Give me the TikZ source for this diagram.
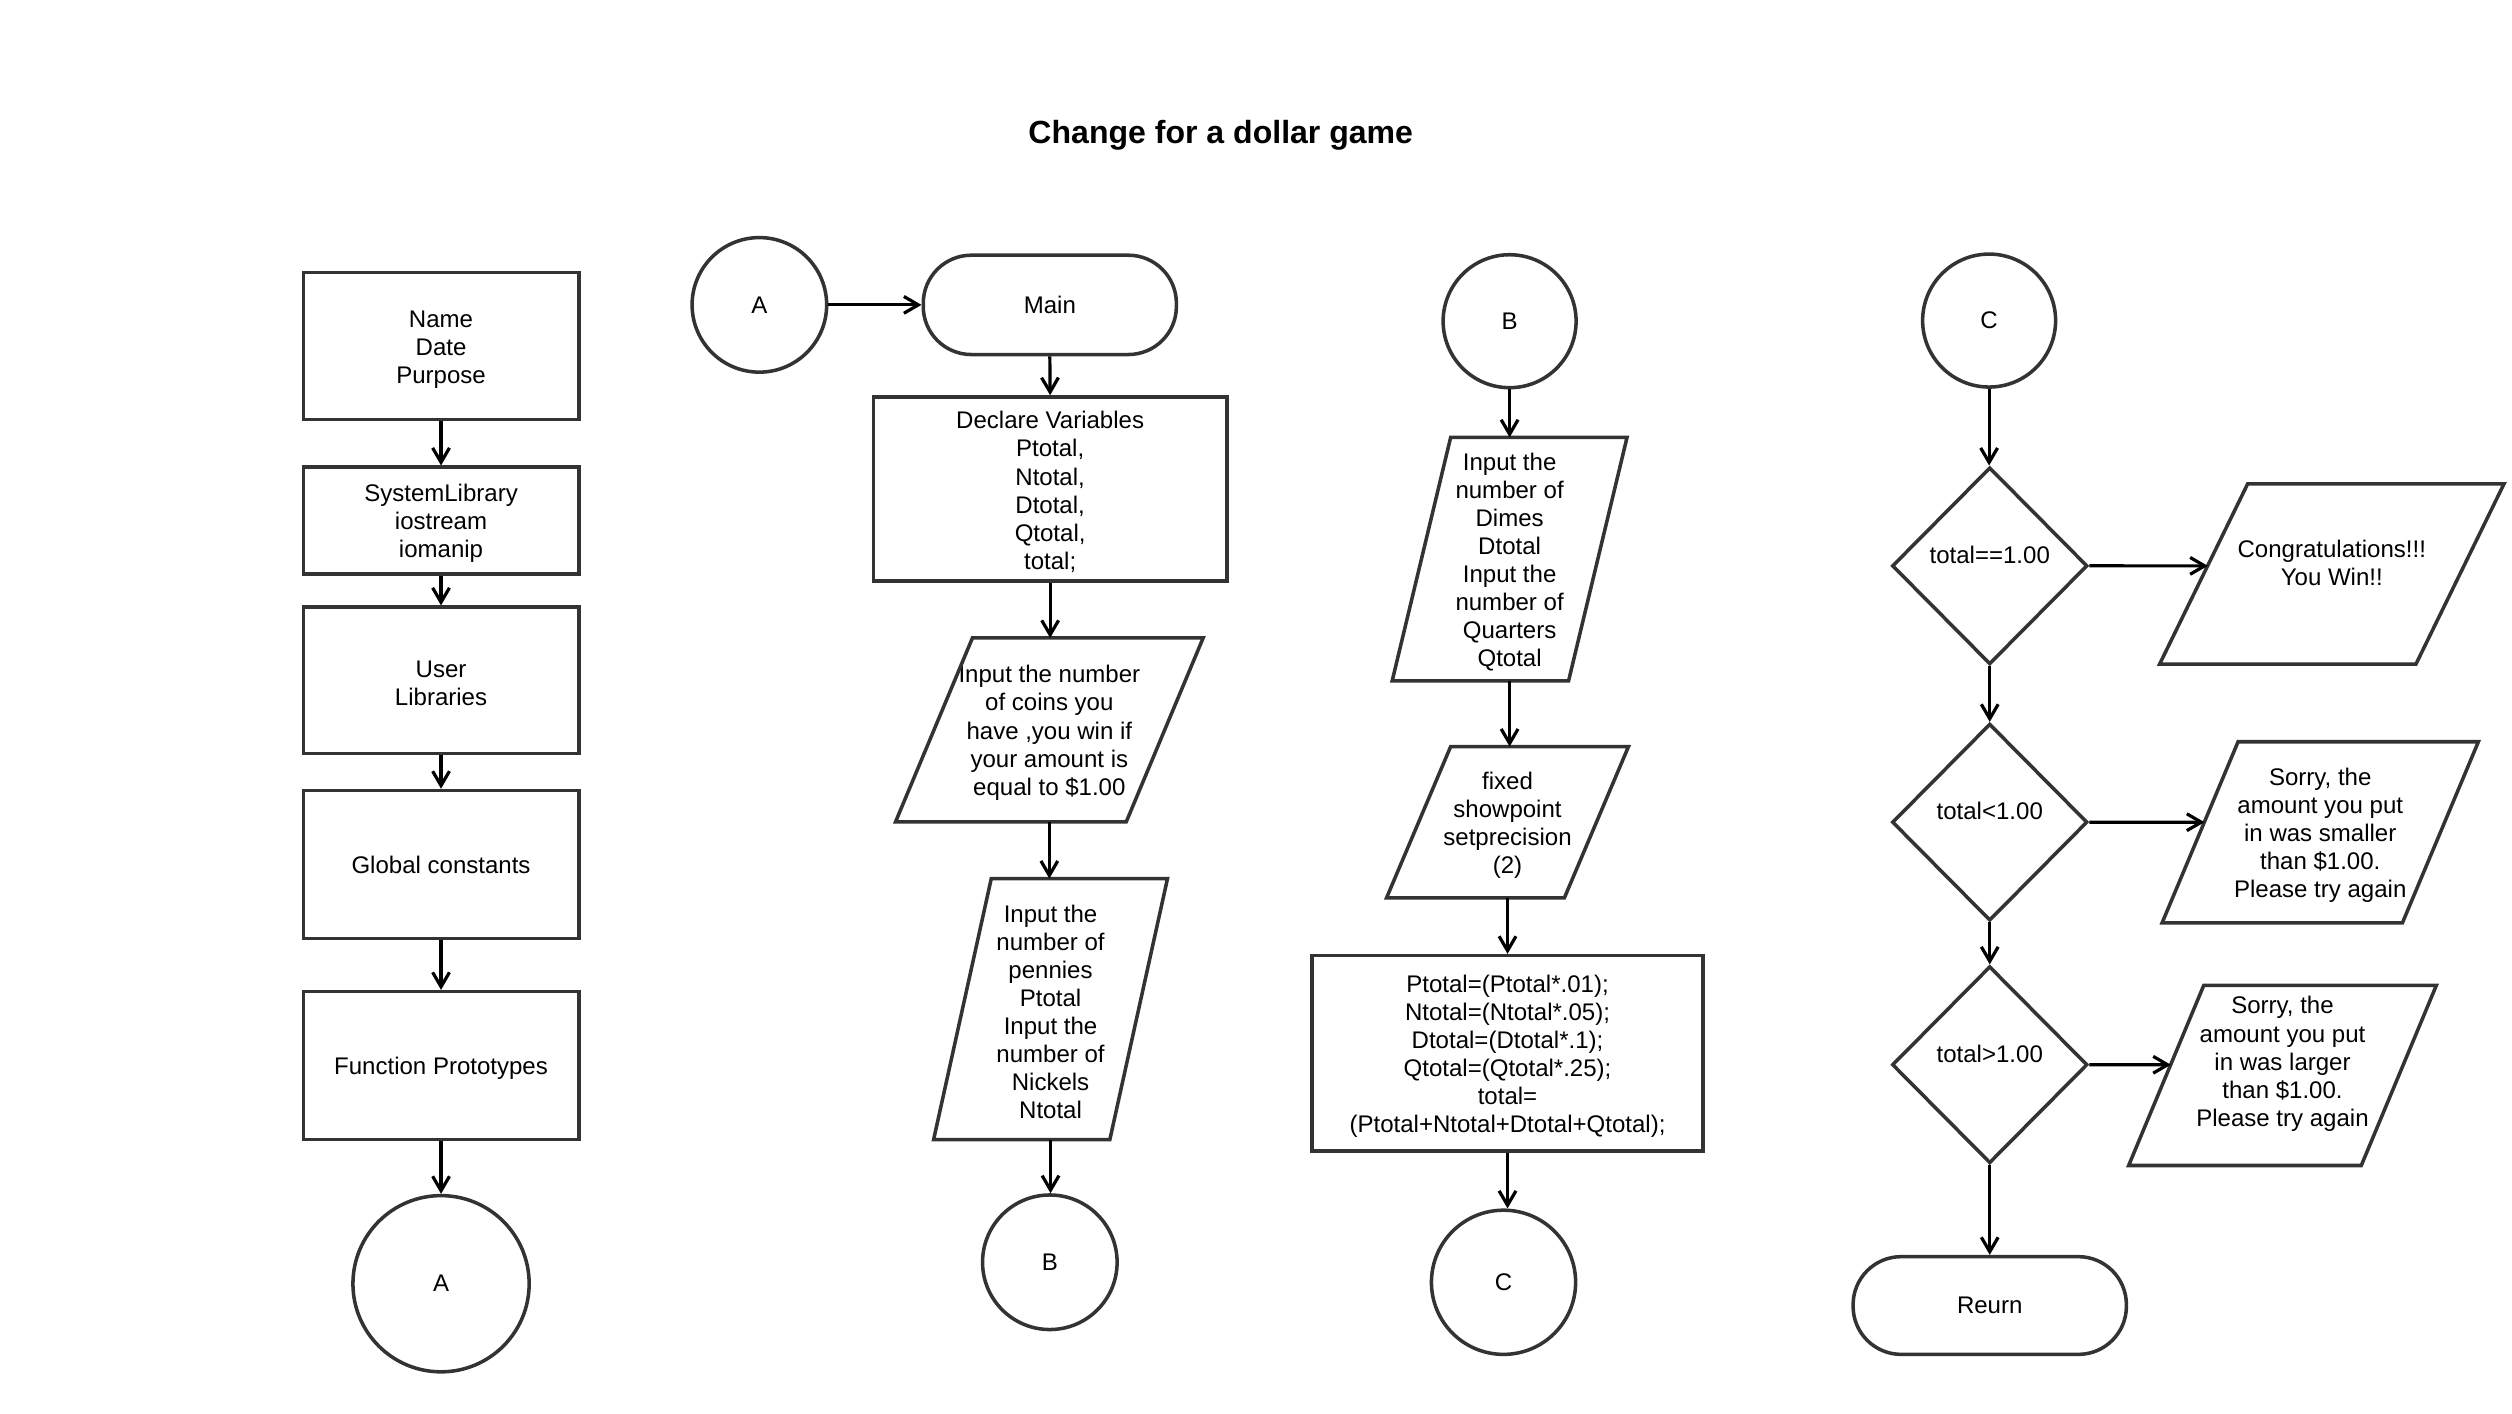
\documentclass[tikz,border=0pt]{standalone}
\usepackage{fontspec}
\setmainfont{Liberation Sans}
\usetikzlibrary{arrows.meta,shapes.geometric,calc}
\definecolor{shapegray}{HTML}{333333}
\newcommand\bodyfont{\fontsize{15}{17.5}\selectfont}
\newcommand\T{\rule{0pt}{14.5pt}}
\newcommand\ioshape[2]{%
  \coordinate (#1nw) at ([xshift=#2]#1.north west);
  \coordinate (#1sw) at (#1.south west);
  \coordinate (#1ne) at (#1.north east);
  \coordinate (#1se) at ([xshift=-#2]#1.south east);
  \draw[outline] (#1nw) -- (#1ne) -- (#1se) -- (#1sw) -- cycle;}
\tikzset{
  outline/.style={draw=shapegray, line width=2.2pt},
  txt/.style={font=\bodyfont, align=center, text=black, inner sep=0pt, outer sep=0pt},
  proc/.style={txt, outline, rectangle, outer sep=1.1pt},
  conn/.style={txt, outline, circle, outer sep=1.1pt},
  term/.style={txt, outline, rectangle, rounded corners=30pt, outer sep=1.1pt},
  dec/.style={txt, outline, diamond, aspect=1, outer sep=1.1pt, minimum width=122pt, minimum height=123pt},
  io/.style={txt, rectangle},
  flow/.style={draw=black, line width=2pt, -{Straight Barb[length=9pt,width=10.5pt]}},
}
\begin{document}
\begin{tikzpicture}[x=1pt,y=-1pt]
\useasboundingbox (0,0) rectangle (1568,882.6);
\node[font=\bfseries\fontsize{20}{24}\selectfont, anchor=base, inner sep=0pt] (title) at (762,89.5) {Change for a dollar game};

% column 1
\node[proc, minimum width=172pt, minimum height=92pt] (nd) at (275.3,216) {\T Name\\Date\\Purpose};
\node[proc, minimum width=172pt, minimum height=66.7pt] (sys) at (275.3,325) {\T SystemLibrary\\iostream\\iomanip};
\node[proc, minimum width=172pt, minimum height=91.4pt] (usr) at (275.3,424.7) {\T User\\Libraries};
\node[proc, minimum width=172pt, minimum height=92.3pt] (glob) at (275.3,539.6) {Global constants};
\node[proc, minimum width=172pt, minimum height=92.4pt] (func) at (275.3,665.2) {\T Function Prototypes};
\node[conn, minimum size=110pt] (a2) at (275.3,801.3) {A};

% column 2
\node[conn, minimum size=84pt] (a1) at (474,190.3) {A};
\node[term, minimum width=158pt, minimum height=62pt] (main) at (655.3,190.3) {Main};
\node[proc, minimum width=220.6pt, minimum height=114.8pt] (decl) at (655.5,305.2) {\T Declare Variables\\Ptotal,\\Ntotal,\\Dtotal,\\Qtotal,\\total;};
\node[io, minimum width=192pt, minimum height=114.8pt] (coins) at (655,455.6) {\T Input the number\\of coins you\\have ,you win if\\your amount is\\equal to \$1.00};
\ioshape{coins}{48pt}
\node[io, minimum width=146pt, minimum height=163pt] (pen) at (655.75,629.9) {\T Input the\\number of\\pennies\\Ptotal\\Input the\\number of\\Nickels\\Ntotal};
\ioshape{pen}{36pt}
\node[conn, minimum size=84pt] (b2) at (655.3,787.9) {B};

% column 3
\node[conn, minimum size=83pt] (b1) at (942.3,200.5) {B};
\node[io, minimum width=146.6pt, minimum height=152pt] (dimes) at (942.3,349) {\T Input the\\number of\\Dimes\\Dtotal\\Input the\\number of\\Quarters\\Qtotal};
\ioshape{dimes}{36.5pt}
\node[io, minimum width=151pt, minimum height=94.4pt] (fixed) at (941,513.2) {\T fixed\\showpoint\\setprecision\\(2)};
\ioshape{fixed}{40pt}
\node[proc, minimum width=244pt, minimum height=122pt] (calcbox) at (941,657.5) {\T Ptotal=(Ptotal*.01);\\Ntotal=(Ntotal*.05);\\Dtotal=(Dtotal*.1);\\Qtotal=(Qtotal*.25);\\total=\\(Ptotal+Ntotal+Dtotal+Qtotal);};
\node[conn, minimum size=90pt] (c2) at (938.5,800.4) {C};

% column 4
\node[conn, minimum size=83pt] (c1) at (1241.6,200.1) {C};
\node[dec] (d1) at (1242,353.2) {\T total==1.00\\\mbox{}};
\node[io, minimum width=215pt, minimum height=112.6pt] (win) at (1455.5,358.3) {\T Congratulations!!!\\You Win!!\\\mbox{}};
\ioshape{win}{55pt}
\node[dec] (d2) at (1242,513.2) {\T total<1.00\\\mbox{}};
\node[io, minimum width=197.4pt, minimum height=113pt] (small) at (1448.3,519.5) {\T Sorry, the\\amount you put\\in was smaller\\than \$1.00.\\Please try again};
\ioshape{small}{47.4pt}
\node[dec] (d3) at (1242,664.6) {\T total>1.00\\\mbox{}};
\node[io, minimum width=192.1pt, minimum height=112.5pt] (large) at (1424.75,671.25) {Sorry, the\\amount you put\\in was larger\\than \$1.00.\\Please try again\\\mbox{}};
\ioshape{large}{46.9pt}
\node[term, minimum width=170.6pt, minimum height=61pt] (ret) at (1242,814.9) {Reurn};

% connectors column 1
\draw[flow] (nd.south) -- (sys.north);
\draw[flow] (sys.south) -- (usr.north);
\draw[flow] (usr.south) -- (glob.north);
\draw[flow] (glob.south) -- (func.north);
\draw[flow] (func.south) -- (a2.north);

% connectors column 2
\draw[flow] (a1.east) -- (main.west);
\draw[flow] (main.south) -- (decl.north);
\draw[flow] (decl.south) -- (decl.south |- coins.north);
\draw[flow] (coins.south) -- (coins.south |- pen.north);
\draw[flow] (pen.south) -- (pen.south |- b2.north);

% connectors column 3
\draw[flow] (b1.south) -- (dimes.north);
\draw[flow] (dimes.south) -- (dimes.south |- fixed.north);
\draw[flow] (fixed.south) -- (fixed.south |- calcbox.north);
\draw[flow] (calcbox.south) -- (calcbox.south |- c2.north);

% connectors column 4
\draw[flow] (c1.south) -- (c1.south |- d1.north);
\draw[flow] (d1.south) -- (d1.south |- d2.north);
\draw[flow] (d2.south) -- (d2.south |- d3.north);
\draw[flow] (d3.south) -- (d3.south |- ret.north);
\coordinate (h1) at (d1.east -| win.east);
\coordinate (h2) at (d2.east -| small.east);
\coordinate (h3) at (d3.east -| large.east);
\draw[flow] (d1.east) -- (intersection of d1.east--h1 and winnw--winsw);
\draw[flow] (d2.east) -- (intersection of d2.east--h2 and smallnw--smallsw);
\draw[flow] (d3.east) -- (intersection of d3.east--h3 and largenw--largesw);
\end{tikzpicture}
\end{document}
